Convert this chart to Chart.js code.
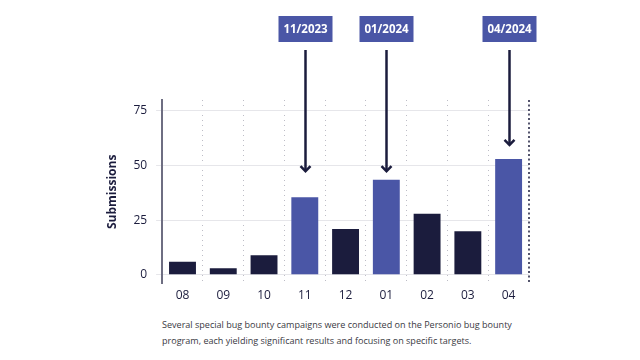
<!DOCTYPE html>
<html>
<head>
<meta charset="utf-8">
<script src="https://cdn.jsdelivr.net/npm/chart.js@4"></script>
<style>
  html, body { margin: 0; padding: 0; background: #fff; }
  #wrap { position: relative; width: 640px; height: 360px; }
  #chartBox { position: absolute; left: 0; top: 0; width: 640px; height: 312px; }
  #caption {
    position: absolute; left: 162px; top: 317px; width: 360px;
    font-family: "Open Sans", sans-serif; font-size: 9.05px; line-height: 16px; color: #3a3a44;
  }
</style>
</head>
<body>
<div id="wrap">
  <div id="chartBox"><canvas id="bugChart"></canvas></div>
  <div id="caption">Several special bug bounty campaigns were conducted on the Personio bug bounty program, each yielding significant results and focusing on specific targets.</div>
</div>
<script>
// --- data ---
const months = ['08', '09', '10', '11', '12', '01', '02', '03', '04'];
const submissions = [6, 3, 9, 35.5, 21, 43.5, 28, 20, 53];
const campaignMonths = ['11', '01', '04'];
const campaignLabels = ['11/2023', '01/2024', '04/2024'];
const arrowTips = [47, 47, 59];
const yTicks = [0, 25, 50, 75];

const DARK = '#1b1c3d';
const BLUE = '#4a56a6';
const GRID = '#e6e6ea';

const barColors = months.map(m => campaignMonths.includes(m) ? BLUE : DARK);

// --- campaign boxes + arrows, and the dotted right edge ---
const campaignPlugin = {
    id: 'campaigns',
    afterDraw(chart) {
        const { ctx, chartArea } = chart;
        const x = chart.scales.x;
        const y = chart.scales.y;

        // right edge dotted line
        ctx.save();
        ctx.strokeStyle = DARK;
        ctx.lineWidth = 1.5;
        ctx.setLineDash([2, 2.5]);
        ctx.beginPath();
        ctx.moveTo(chartArea.right, chartArea.top);
        ctx.lineTo(chartArea.right, chartArea.bottom);
        ctx.stroke();
        ctx.restore();

        campaignMonths.forEach((m, i) => {
            const cx = Math.round(x.getPixelForValue(months.indexOf(m))) + 0.5;
            const tipY = y.getPixelForValue(arrowTips[i]);

            // label box
            ctx.save();
            ctx.fillStyle = BLUE;
            ctx.fillRect(cx - 27, 16, 54, 26);
            ctx.fillStyle = '#fff';
            ctx.font = 'bold 11.5px "Open Sans"';
            ctx.textAlign = 'center';
            ctx.textBaseline = 'middle';
            ctx.fillText(campaignLabels[i], cx, 29.5);

            // arrow
            ctx.strokeStyle = DARK;
            ctx.lineWidth = 2.5;
            ctx.beginPath();
            ctx.moveTo(cx, 50);
            ctx.lineTo(cx, tipY - 1);
            ctx.stroke();
            ctx.lineJoin = 'miter';
            ctx.beginPath();
            ctx.moveTo(cx - 5, tipY - 6);
            ctx.lineTo(cx, tipY - 1);
            ctx.lineTo(cx + 5, tipY - 6);
            ctx.stroke();
            ctx.restore();
        });
    }
};

const ctx = document.getElementById('bugChart').getContext('2d');
new Chart(ctx, {
    type: 'bar',
    data: {
        labels: months,
        datasets: [{
            label: 'Submissions',
            data: submissions,
            backgroundColor: barColors,
            borderWidth: 0,
            barPercentage: 0.66,
            categoryPercentage: 1
        }]
    },
    options: {
        responsive: true,
        maintainAspectRatio: false,
        animation: false,
        layout: { padding: { left: 105, right: 111, top: 100, bottom: 4 } },
        plugins: {
            legend: { display: false },
            tooltip: { enabled: false }
        },
        scales: {
            x: {
                grid: {
                    offset: true,
                    drawTicks: false,
                    color: c => c.index === undefined ? 'rgba(0,0,0,0)' : '#bdbdc6',
                    lineWidth: 1
                },
                border: { display: false, dash: [1, 4] },
                ticks: { color: DARK, padding: 5, font: { family: 'Open Sans', size: 12 } }
            },
            y: {
                min: -4,
                max: 80,
                afterBuildTicks: scale => { scale.ticks = yTicks.map(v => ({ value: v })); },
                grid: { color: GRID, tickLength: 6, tickColor: GRID },
                border: { color: '#6e6e82', width: 2 },
                ticks: { color: DARK, padding: 9, font: { family: 'Open Sans', size: 12 } },
                title: {
                    display: true,
                    text: 'Submissions',
                    color: DARK,
                    padding: { top: 0, bottom: 5 },
                    font: { family: 'Open Sans', size: 12, weight: 'bold' }
                }
            }
        }
    },
    plugins: [campaignPlugin]
});
</script>
</body>
</html>
